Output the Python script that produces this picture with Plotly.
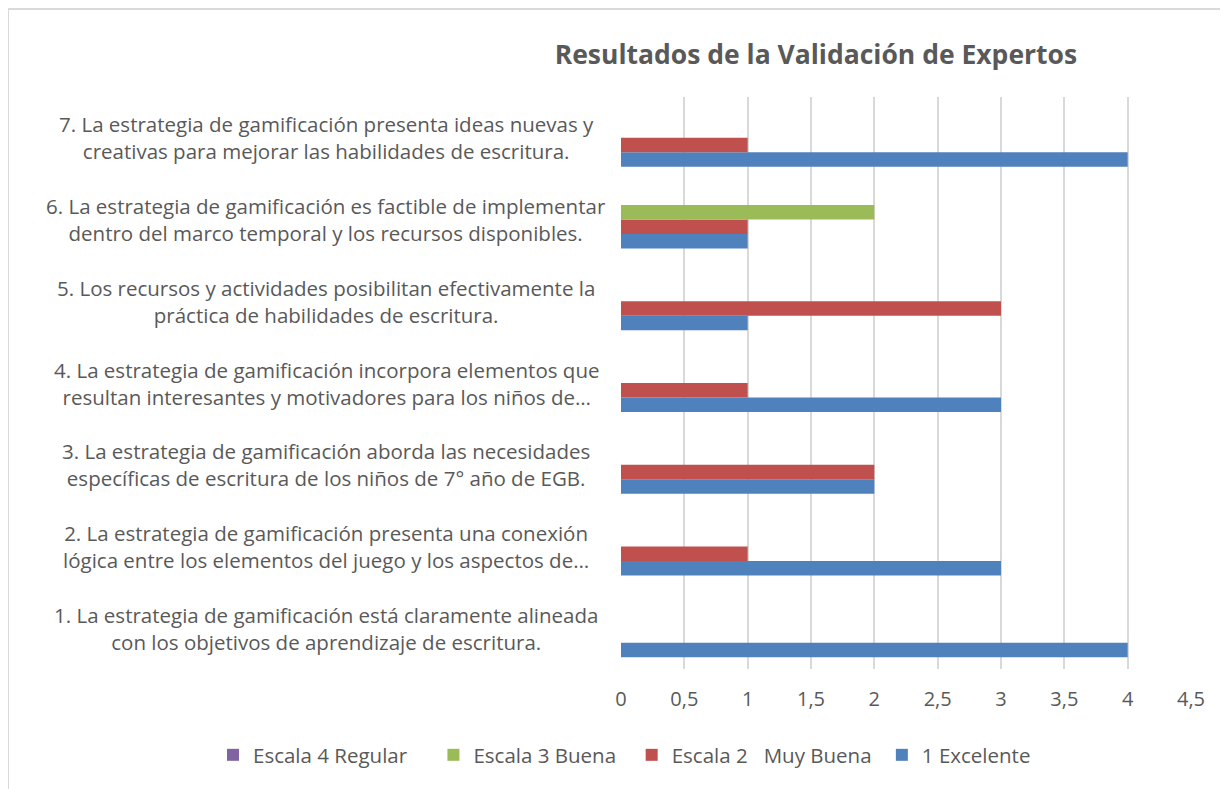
import plotly.graph_objects as go

categories = [
    "1. La estrategia de gamificación está claramente alineada<br>con los objetivos de aprendizaje de escritura.",
    "2. La estrategia de gamificación presenta una conexión<br>lógica entre los elementos del juego y los aspectos de…",
    "3. La estrategia de gamificación aborda las necesidades<br>específicas de escritura de los niños de 7° año de EGB.",
    "4. La estrategia de gamificación incorpora elementos que<br>resultan interesantes y motivadores para los niños de…",
    "5. Los recursos y actividades posibilitan efectivamente la<br>práctica de habilidades de escritura.",
    "6. La estrategia de gamificación es factible de implementar<br>dentro del marco temporal y los recursos disponibles.",
    "7. La estrategia de gamificación presenta ideas nuevas y<br>creativas para mejorar las habilidades de escritura.",
]
excelente = [4, 3, 2, 3, 1, 1, 4]
muy_buena = [0, 1, 2, 1, 3, 1, 1]
buena = [0, 0, 0, 0, 0, 2, 0]
regular = [0, 0, 0, 0, 0, 0, 0]

series_names = ["1 Excelente", "Escala 2   Muy Buena", "Escala 3 Buena", "Escala 4 Regular"]
series_values = [excelente, muy_buena, buena, regular]
series_colors = ["#4F81BD", "#C0504D", "#9BBB59", "#8064A2"]
legend_pad = [0, 1, 2, 4]  # extra trailing spaces to mimic Excel legend spacing

x_ticks = [0, 0.5, 1, 1.5, 2, 2.5, 3, 3.5, 4, 4.5]
x_tick_text = ["0", "0,5", "1", "1,5", "2", "2,5", "3", "3,5", "4", "4,5"]

FONT = "'Open Sans', sans-serif"
TXT = "#595959"

fig = go.Figure()
for name, vals, col, pad in zip(series_names, series_values, series_colors, legend_pad):
    fig.add_trace(go.Bar(
        y=categories, x=vals, name=name.replace(" ", "\u00a0") + "\u00a0" * pad,
        orientation="h",
        marker=dict(color=col, line=dict(width=0)),
    ))

for c in categories:
    fig.add_annotation(
        x=-0.5175, xref="paper", y=c, yref="y",
        text=c, showarrow=False, xanchor="center", yanchor="middle",
        align="center", font=dict(family=FONT, size=20.5, color=TXT),
    )

fig.update_layout(
    width=1220, height=781,
    margin=dict(l=613, r=37, t=89, b=120),
    paper_bgcolor="white", plot_bgcolor="white",
    barmode="group", bargap=0.29, bargroupgap=0,
    font=dict(family=FONT, color=TXT),
    title=dict(
        text="<b>Resultados de la Validación de Expertos</b>",
        x=0.342, xref="paper", xanchor="center",
        y=1 - 47 / 781, yref="container", yanchor="middle",
        font=dict(family=FONT, size=26.5, color=TXT),
    ),
    xaxis=dict(
        range=[0, 4.5], tickvals=x_ticks, ticktext=x_tick_text,
        showgrid=True, gridcolor="#D9D9D9", gridwidth=2,
        zeroline=False, showline=False,
        tickfont=dict(family=FONT, size=20, color=TXT),
        ticks="", ticklabelstandoff=16,
    ),
    yaxis=dict(
        showticklabels=False, showgrid=False, zeroline=False, showline=False,
        categoryorder="array", categoryarray=categories,
    ),
    legend=dict(
        orientation="h", traceorder="reversed",
        x=(213 - 621) / 570, xanchor="left",
        y=(669 - 755) / 572, yanchor="middle",
        font=dict(family=FONT, size=20.5, color=TXT),
        itemwidth=30,
    ),
    shapes=[
        dict(type="line", xref="paper", yref="paper",
             x0=-1.0754, x1=-1.0754, y0=-0.3, y1=1.1538,
             line=dict(color="#D9D9D9", width=2)),
        dict(type="line", xref="paper", yref="paper",
             x0=-1.0754, x1=1.2, y0=1.1538, y1=1.1538,
             line=dict(color="#D9D9D9", width=2)),
    ],
)

fig.write_html("out.html")
